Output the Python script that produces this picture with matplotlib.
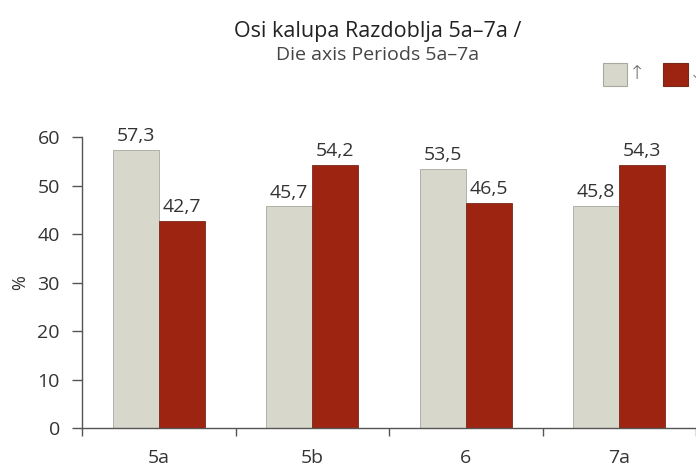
import numpy as np
import matplotlib.pyplot as plt

plt.rcParams['font.family'] = ['Open Sans', 'DejaVu Sans']

kategorije = ['5a', '5b', '6', '7a']
gore = [57.3, 45.7, 53.5, 45.8]
dolje = [42.7, 54.2, 46.5, 54.3]
oznake = ['\u2191', '\u2193']

svijetla = '#d7d7cc'
tamna = '#9c2410'
tekst = '#333333'

fig = plt.figure(figsize=(6.96, 4.67), dpi=100)
ax = fig.add_axes([0.118, 0.0835, 0.882, 0.623])

x = np.arange(len(kategorije))
w = 0.3
b1 = ax.bar(x - w / 2, gore, w, color=svijetla, edgecolor='#a8a8a0', linewidth=0.6)
b2 = ax.bar(x + w / 2, dolje, w, color=tamna, edgecolor='#7a2a1a', linewidth=0.6)

for bars, vals in [(b1, gore), (b2, dolje)]:
    for r, v in zip(bars, vals):
        ax.text(r.get_x() + r.get_width() / 2, v + 1.0, f'{v:.1f}'.replace('.', ','),
                ha='center', va='bottom', fontsize=14, color=tekst)

ax.set_xlim(-0.5, 3.48)
ax.set_ylim(0, 60)
ax.set_yticks(range(0, 61, 10))
ax.set_xticks(np.arange(-0.5, 4, 1))
ax.set_xticks(x, minor=True)
ax.set_xticklabels([])
ax.set_xticklabels(kategorije, minor=True)
ax.tick_params(axis='x', which='major', length=6, color='#555555', width=1)
ax.tick_params(axis='x', which='minor', length=0, labelsize=14, labelcolor=tekst, pad=15)
ax.tick_params(axis='y', length=7, color='#555555', width=1, labelsize=14, labelcolor=tekst, pad=9)
ax.set_ylabel('%', fontsize=13, color=tekst, labelpad=6)

for s in ['top', 'right']:
    ax.spines[s].set_visible(False)
for s in ['left', 'bottom']:
    ax.spines[s].set_color('#555555')
    ax.spines[s].set_linewidth(1)

fig.text(0.542, 0.933, 'Osi kalupa Razdoblja 5a\u20137a /', ha='center', va='center',
         fontsize=15.5, color='#222222')
fig.text(0.542, 0.882, 'Die axis Periods 5a\u20137a', ha='center', va='center',
         fontsize=14, color='#444444')

# legenda
fig.patches.append(plt.Rectangle((0.866, 0.816), 0.035, 0.049, transform=fig.transFigure,
                                 facecolor=svijetla, edgecolor='#a8a8a0', linewidth=0.8))
fig.text(0.903, 0.842, oznake[0], ha='left', va='center', fontsize=14, color='#666666',
         family='DejaVu Sans', fontweight='light')
fig.patches.append(plt.Rectangle((0.953, 0.816), 0.035, 0.049, transform=fig.transFigure,
                                 facecolor=tamna, edgecolor='#7a2a1a', linewidth=0.8))
fig.text(0.989, 0.842, oznake[1], ha='left', va='center', fontsize=14, color='#666666',
         family='DejaVu Sans', fontweight='light')

fig.savefig('out.png', dpi=100)
